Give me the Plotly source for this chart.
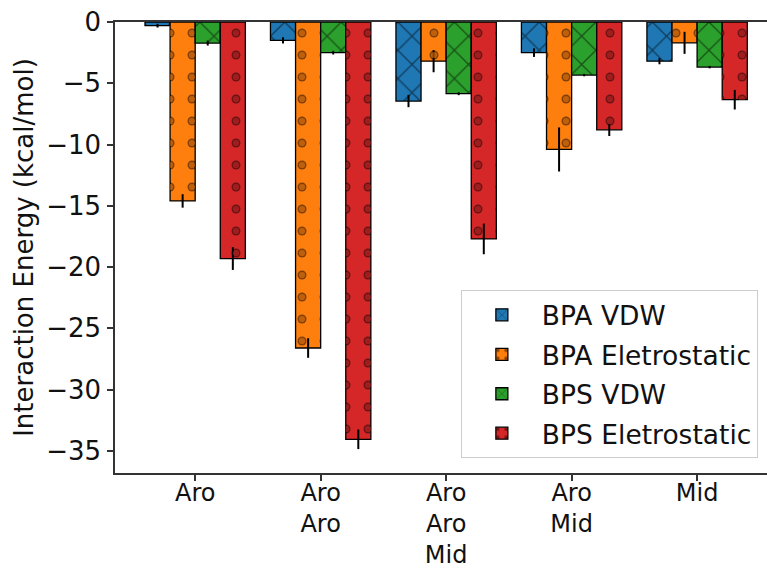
import plotly.graph_objects as go

# ---- data ----
categories = ["Aro", "Aro<br>Aro", "Aro<br>Aro<br>Mid", "Aro<br>Mid", "Mid"]
series_names = ["BPA VDW", "BPA Eletrostatic", "BPS VDW", "BPS Eletrostatic"]
bpa_vdw = [-0.3, -1.5, -6.45, -2.5, -3.2]
bpa_vdw_err = [0.15, 0.25, 0.5, 0.35, 0.25]
bpa_ele = [-14.6, -26.6, -3.2, -10.4, -1.7]
bpa_ele_err = [0.55, 0.8, 0.9, 1.8, 0.9]
bps_vdw = [-1.72, -2.5, -5.85, -4.33, -3.68]
bps_vdw_err = [0.2, 0.15, 0.12, 0.1, 0.1]
bps_ele = [-19.3, -34.05, -17.7, -8.8, -6.34]
bps_ele_err = [0.93, 0.8, 1.25, 0.5, 0.8]

values = [bpa_vdw, bpa_ele, bps_vdw, bps_ele]
errors = [bpa_vdw_err, bpa_ele_err, bps_vdw_err, bps_ele_err]
colors = ["#1f77b4", "#ff7f0e", "#2ca02c", "#d62728"]
hatches = ["x", "o", "x", "o"]

bar_w = 0.2
n = len(categories)
FONT = "DejaVu Sans"
FS = 26

fig = go.Figure()
for k, (name, vals, errs, col, h) in enumerate(zip(series_names, values, errors, colors, hatches)):
    xs = [i + k * bar_w for i in range(n)]
    if h == "x":
        pat = dict(shape="x", fgcolor="black", size=20, solidity=0.12)
    else:
        pat = dict(shape=".", fgcolor="black", size=22, solidity=0.131)
    fig.add_trace(go.Bar(
        x=xs, y=vals, width=bar_w, name=name, legendgroup=name,
        marker=dict(color=col, line=dict(color="black", width=1.3), pattern=pat),
        error_y=dict(type="data", array=errs, visible=True, color="black",
                     thickness=2, width=0),
    ))
    if h == "o":
        fig.add_trace(go.Bar(
            x=xs, y=vals, width=bar_w, name=name, legendgroup=name, showlegend=False,
            hoverinfo="skip",
            marker=dict(color="rgba(0,0,0,0)", line=dict(width=0),
                        pattern=dict(shape=".", fgcolor=col, size=22, solidity=0.062)),
        ))

tick_pos = [i + 1.5 * bar_w for i in range(n)]

fig.update_layout(
    width=767, height=570,
    margin=dict(l=115, r=0, t=22, b=97),
    paper_bgcolor="white", plot_bgcolor="white",
    barmode="overlay",
    font=dict(family=FONT, size=FS, color="#111"),
    showlegend=True,
    legend=dict(
        x=0.986, y=0.033, xanchor="right", yanchor="bottom",
        bgcolor="rgba(255,255,255,0.85)", bordercolor="#cccccc", borderwidth=1,
        font=dict(family=FONT, size=26.5, color="#111"),
        tracegroupgap=2, itemwidth=70,
    ),
)
fig.update_xaxes(
    range=[-0.339, 4.857], tickvals=tick_pos, ticktext=categories,
    showline=True, linecolor="#333", linewidth=1.5, mirror=True,
    ticks="outside", ticklen=6, tickwidth=1.5, tickcolor="#333",
    ticklabelstandoff=-9,
    showgrid=False, zeroline=False, automargin=False,
    tickfont=dict(family=FONT, size=24, color="#111"),
)
fig.update_yaxes(
    range=[-36.8, 0], dtick=5, tick0=0,
    showline=True, linecolor="#333", linewidth=1.5, mirror=False,
    ticks="outside", ticklen=6, tickwidth=1.5, tickcolor="#333",
    ticklabelstandoff=1, automargin=False,
    showgrid=False, zeroline=False,
    tickfont=dict(family=FONT, size=FS, color="#111"),
    title=dict(text="Interaction Energy (kcal/mol)", standoff=5,
               font=dict(family=FONT, size=FS, color="#111")),
)

fig.write_html("out.html")
